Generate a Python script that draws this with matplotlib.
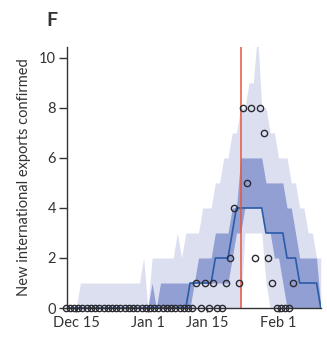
import pandas as pd
import matplotlib
matplotlib.use('Agg')
import matplotlib.pyplot as plt

plt.rcParams['font.family'] = ['Lato', 'DejaVu Sans']

# model output, one value per day from Dec 12 to Feb 11
band_dates = pd.date_range('2019-12-12', '2020-02-11')
ci95_upper = ([0] * 4 + [1] * 15 + [2, 0] + [2] * 6 + [3, 2] + [3] * 4 + [4] * 3
              + [5, 5, 6, 6, 7, 7, 8, 8, 9, 9, 11, 8, 8, 7, 7, 6, 6, 6, 5, 5, 4, 4, 3, 3, 2, 2])
ci95_lower = [0] * 43 + [3] * 5 + [1] + [0] * 13
ci50_upper = ([0] * 21 + [1, 0] + [1] * 9 + [2] * 4 + [3] * 4 + [4, 4, 6] + [6] * 5
              + [5] * 5 + [4, 4, 3] + [2] * 5 + [0])
ci50_lower = [0] * 31 + [1] * 9 + [2, 3, 3] + [4] * 5 + [3, 3, 2, 2, 1] + [0] * 9
median = [0] * 30 + [1] * 6 + [2] * 4 + [3] + [4] * 7 + [3] * 5 + [2] * 3 + [1] * 5 + [0]

# confirmed exports, one value per day from Dec 12 to Feb 4
obs_dates = pd.date_range('2019-12-12', '2020-02-04')
observed = ([0] * 31 + [1, 0, 1, 0, 1, 0, 0, 1, 2, 4, 1, 8, 5, 8, 2, 8, 7, 2, 1, 0, 0, 0, 0, 1])

travel_ban = pd.Timestamp('2020-01-23')
tick_dates = pd.to_datetime(['2019-12-15', '2020-01-01', '2020-01-15', '2020-02-01'])
tick_labels = ['Dec 15', 'Jan 1', 'Jan 15', 'Feb 1']

fig = plt.figure(figsize=(3.27, 3.40), dpi=100)
ax = fig.add_axes([0.205, 0.094, 0.776, 0.769])

ax.fill_between(band_dates, ci95_lower, ci95_upper, color='#dcdff0', lw=0)
ax.fill_between(band_dates, ci50_lower, ci50_upper, color='#929fd2', lw=0)
ax.plot(band_dates, median, color='#2a5ca8', lw=1.2)
ax.axvline(travel_ban, color='#e8553f', lw=1.1)
ax.plot(obs_dates + pd.Timedelta(hours=12), observed, 'o', ms=4.5, mfc='none',
        mec='#2b2b33', mew=1.0, clip_on=False, zorder=4)

ax.set_xlim(pd.Timestamp('2019-12-12 20:00'), pd.Timestamp('2020-02-11'))
ax.set_ylim(0, 10.45)
ax.set_yticks(range(0, 11, 2))
ax.set_xticks(tick_dates)
ax.set_xticklabels(tick_labels)
ax.set_ylabel('New international exports confirmed', fontsize=10.5, color='#333333', labelpad=6)

for s in ['top', 'right']:
    ax.spines[s].set_visible(False)
for s in ['left', 'bottom']:
    ax.spines[s].set_color('#333333')
    ax.spines[s].set_linewidth(1.0)
ax.tick_params(axis='y', length=6, width=1, color='#333333', labelsize=10.5, pad=2, labelcolor='#333333')
ax.tick_params(axis='x', length=3, width=1, color='#333333', labelsize=10.5, pad=3, labelcolor='#333333')

fig.text(0.143, 0.925, 'F', fontsize=14, fontweight='bold', color='#333333')

fig.savefig('out.png', dpi=100)
